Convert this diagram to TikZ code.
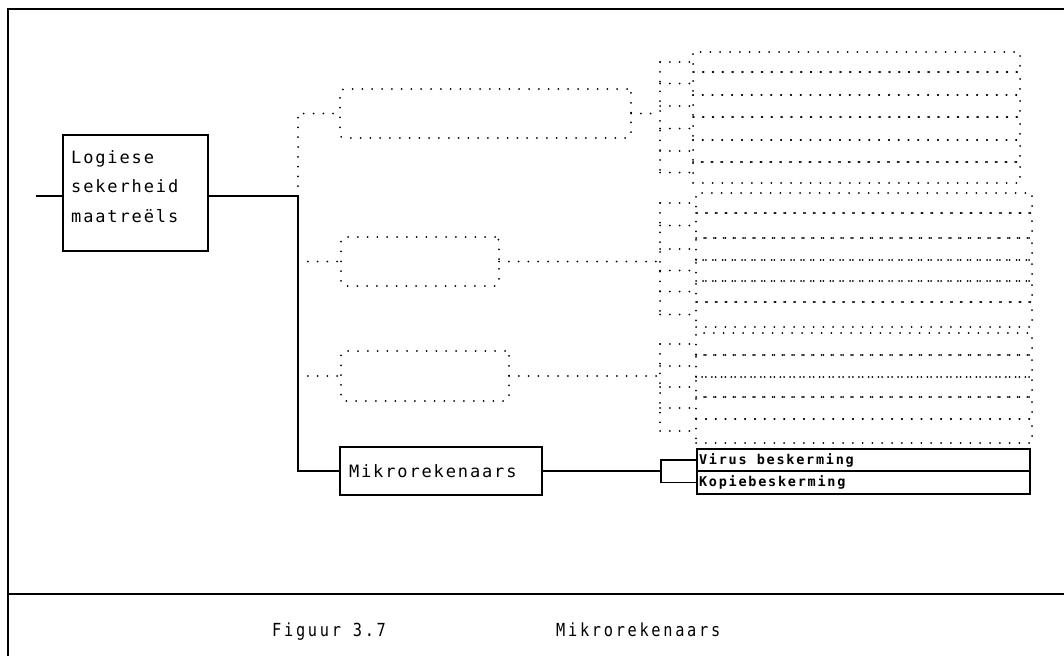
\documentclass[tikz,border=0pt]{standalone}
\usepackage{fontspec}
\newfontfamily\boxfont[LetterSpace=11]{DejaVu Sans Mono}
\newfontfamily\smallfont[LetterSpace=13]{DejaVu Sans Mono}
\newfontfamily\capfont[LetterSpace=15,FakeStretch=0.85]{DejaVu Sans Mono}
\begin{document}
\begin{tikzpicture}[x=1pt,y=-1pt,
  line/.style={line width=1.3pt},
  frame/.style={line width=1.8pt},
  dot/.style={line width=2pt, line cap=round, dash pattern=on 0pt off 9.8pt},
  solidbox/.style={draw, line, outer sep=0pt, inner sep=0pt},
  dotbox/.style={draw, dot, rounded corners=4pt, outer sep=0pt, inner sep=0pt},
  rowbox/.style={draw, dot, outer sep=0pt, inner sep=0pt, anchor=north west},
  captext/.style={inner sep=0pt, anchor=base west, font=\capfont\fontsize{18}{21}\selectfont}]
\useasboundingbox (0,0) rectangle (1064,656);
\fill[white] (0,0) rectangle (1064,656);
% frame
\coordinate (f1) at (8,656);
\coordinate (f2) at (8,9);
\coordinate (f3) at (1064,9);
\coordinate (f4) at (8,594);
\coordinate (f5) at (1064,594);
\draw[frame] (f1) -- (f2) -- (f3);
\draw[frame] (f4) -- (f5);
% main box
\node[solidbox, anchor=north west, minimum width=145, minimum height=116] (log) at (63,135) {};
\node[inner sep=0pt, anchor=base west, align=left, font=\boxfont\fontsize{17}{29.5}\selectfont] (logt) at (71,222) {Logiese\\sekerheid\\maatreëls};
\coordinate (in) at (36,196);
\draw[line] (in) -- (in -| log.west);
% first-level boxes
\node[dotbox, anchor=north west, minimum width=291, minimum height=49] (b1) at (340,89) {};
\node[dotbox, anchor=north west, minimum width=158, minimum height=49] (b2) at (341,237) {};
\node[dotbox, anchor=north west, minimum width=168, minimum height=50] (b3) at (341,351) {};
\node[solidbox, anchor=north west, minimum width=202, minimum height=48, text width=190, inner xsep=6pt, align=left, font=\boxfont\fontsize{17}{20}\selectfont] (mik) at (340,447) {\hspace{3pt}Mikrorekenaars};
% trunk
\coordinate (j) at (298,196);
\draw[line] (log.east |- j) -- (j) -- (j |- mik.west) -- (mik.west);
\draw[dot] (j) -- (j |- b1.west) -- (b1.west);
\draw[dot] (j |- b2.west) -- (b2.west);
\draw[dot] (j |- b3.west) -- (b3.west);
% bracket x
\coordinate (brx) at (660,0);
% group 1
\foreach \t/\b/\n in {52/72/1,72/95/2,95/117/3,117/140/4,140/162/5,162/183/6}{
  \node[rowbox, minimum width=327, minimum height={\b-\t}] (ga-\n) at (693,\t) {};
  \draw[dot] (ga-\n.west -| brx) -- (ga-\n.west);
}
\draw[dot] (ga-1.west -| brx) -- (ga-6.west -| brx);
\draw[dot] (b1.east) -- (b1.east -| brx);
% group 2
\foreach \t/\b/\n in {193/213/1,213/238/2,238/260/3,260/281/4,281/302/5,302/327/6}{
  \node[rowbox, minimum width=336, minimum height={\b-\t}] (gb-\n) at (696,\t) {};
  \draw[dot] (gb-\n.west -| brx) -- (gb-\n.west);
}
\draw[dot] (gb-1.west -| brx) -- (gb-6.west -| brx);
\draw[dot] (b2.east) -- (b2.east -| brx);
% group 3
\foreach \t/\b/\n in {333/355/1,355/377/2,377/397/3,397/419/4,419/443/5}{
  \node[rowbox, minimum width=336, minimum height={\b-\t}] (gc-\n) at (696,\t) {};
  \draw[dot] (gc-\n.west -| brx) -- (gc-\n.west);
}
\draw[dot] (gc-1.west -| brx) -- (gc-5.west -| brx);
\draw[dot] (b3.east) -- (b3.east -| brx);
% micro group
\node[solidbox, anchor=north west, minimum width=333, minimum height=22, text width=329, inner xsep=2pt, align=left, font=\smallfont\bfseries\fontsize{13.5}{14}\selectfont] (vir) at (697,449) {Virus\hspace{0.75em}beskerming};
\node[solidbox, anchor=north west, minimum width=333, minimum height=23, text width=329, inner xsep=2pt, align=left, font=\smallfont\bfseries\fontsize{13.5}{14}\selectfont] (kop) at (697,471) {Kopiebeskerming};
\coordinate (brm) at (661,0);
\draw[line] (mik.east) -- (mik.east -| brm);
\draw[line] (vir.west) -- (vir.west -| brm) -- (kop.west -| brm) -- (kop.west);
% caption
\node[captext] (cap1) at (272,636) {Figuur 3.7};
\node[captext] (cap2) at (556,636) {Mikrorekenaars};
\end{tikzpicture}
\end{document}
